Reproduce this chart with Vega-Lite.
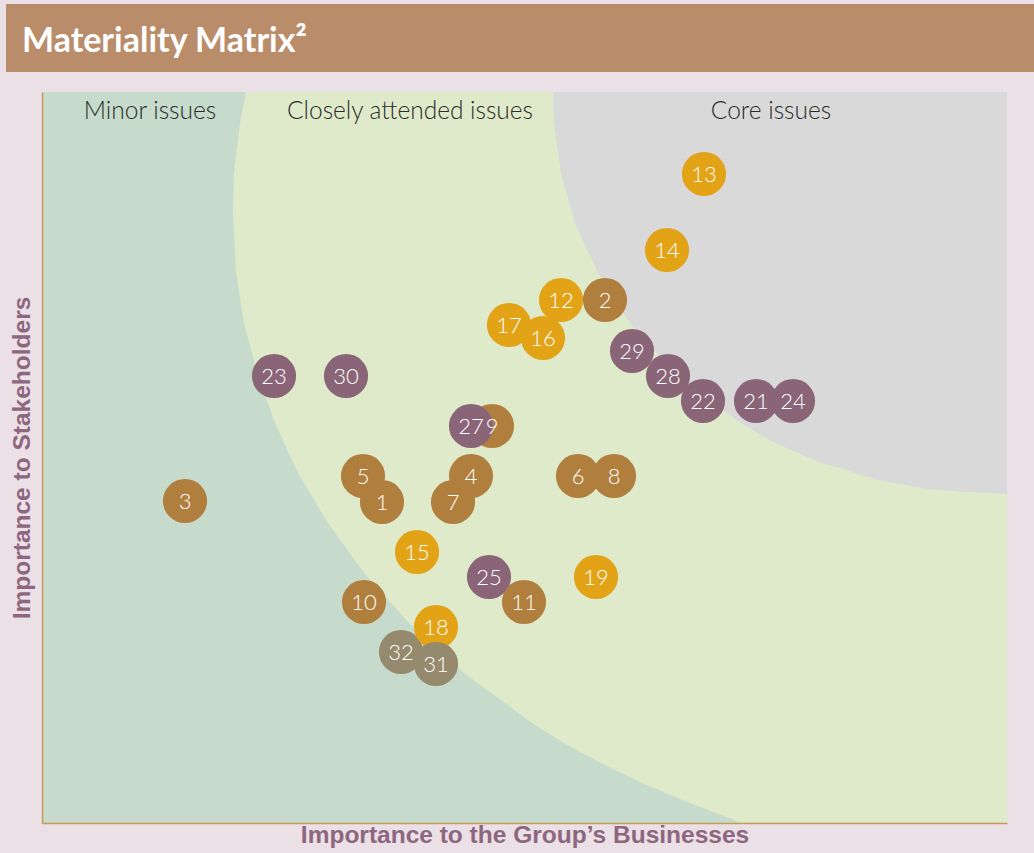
{
  "$schema": "https://vega.github.io/schema/vega-lite/v6.json",
  "width": 965,
  "height": 731,
  "autosize": {"type": "none"},
  "padding": {"left": 42, "top": 92, "right": 27, "bottom": 30},
  "background": "#ebe0e6",
  "config": {
    "view": {"fill": "#c6dbcb", "stroke": null}
  },
  "datasets": {
    "bar": [{"x": -36, "x2": 992, "y": 751, "y2": 819}],
    "heading": [{"x": -20, "y": 771, "text": "Materiality Matrix²"}],
    "zones": [
      {"x": 108, "y": 704, "text": "Minor issues"},
      {"x": 368, "y": 704, "text": "Closely attended issues"},
      {"x": 729, "y": 704, "text": "Core issues"}
    ],
    "closely": [
      {"y": 0, "x": 700},
      {"y": 20, "x": 648},
      {"y": 40, "x": 600},
      {"y": 60, "x": 559},
      {"y": 80, "x": 522},
      {"y": 100, "x": 490},
      {"y": 150, "x": 422},
      {"y": 200, "x": 367},
      {"y": 250, "x": 322},
      {"y": 300, "x": 286},
      {"y": 350, "x": 256},
      {"y": 400, "x": 233},
      {"y": 450, "x": 215},
      {"y": 500, "x": 202},
      {"y": 550, "x": 194},
      {"y": 610, "x": 191},
      {"y": 650, "x": 192},
      {"y": 700, "x": 198},
      {"y": 731, "x": 204}
    ],
    "core": [
      {"y": 329, "x": 965},
      {"y": 331, "x": 925},
      {"y": 334, "x": 885},
      {"y": 343, "x": 836},
      {"y": 362, "x": 774},
      {"y": 381, "x": 731},
      {"y": 401, "x": 697},
      {"y": 450, "x": 633},
      {"y": 500, "x": 588},
      {"y": 550, "x": 556},
      {"y": 600, "x": 533},
      {"y": 650, "x": 519},
      {"y": 700, "x": 512},
      {"y": 731, "x": 511}
    ],
    "issues": [
      {"id": "3", "group": "Category A", "x": 143, "y": 322},
      {"id": "23", "group": "Category C", "x": 232, "y": 447},
      {"id": "30", "group": "Category C", "x": 304, "y": 447},
      {"id": "5", "group": "Category A", "x": 321, "y": 347},
      {"id": "1", "group": "Category A", "x": 340, "y": 321},
      {"id": "10", "group": "Category A", "x": 322, "y": 221},
      {"id": "32", "group": "Category D", "x": 359, "y": 171},
      {"id": "18", "group": "Category B", "x": 394, "y": 196},
      {"id": "31", "group": "Category D", "x": 394, "y": 159},
      {"id": "15", "group": "Category B", "x": 375, "y": 271},
      {"id": "4", "group": "Category A", "x": 429, "y": 347},
      {"id": "7", "group": "Category A", "x": 411, "y": 321},
      {"id": "9", "group": "Category A", "x": 450, "y": 397},
      {"id": "27", "group": "Category C", "x": 429, "y": 397},
      {"id": "25", "group": "Category C", "x": 447, "y": 246},
      {"id": "11", "group": "Category A", "x": 482, "y": 221},
      {"id": "17", "group": "Category B", "x": 467, "y": 498},
      {"id": "16", "group": "Category B", "x": 501, "y": 485},
      {"id": "12", "group": "Category B", "x": 519, "y": 523},
      {"id": "2", "group": "Category A", "x": 563, "y": 523},
      {"id": "6", "group": "Category A", "x": 536, "y": 347},
      {"id": "8", "group": "Category A", "x": 572, "y": 347},
      {"id": "19", "group": "Category B", "x": 554, "y": 246},
      {"id": "29", "group": "Category C", "x": 590, "y": 472},
      {"id": "28", "group": "Category C", "x": 626, "y": 447},
      {"id": "22", "group": "Category C", "x": 661, "y": 422},
      {"id": "21", "group": "Category C", "x": 714, "y": 422},
      {"id": "24", "group": "Category C", "x": 751, "y": 422},
      {"id": "14", "group": "Category B", "x": 625, "y": 573},
      {"id": "13", "group": "Category B", "x": 662, "y": 649}
    ]
  },
  "encoding": {
    "x": {
      "field": "x",
      "type": "quantitative",
      "scale": {"domain": [0, 965], "nice": false, "zero": false},
      "axis": {
        "title": "Importance to the Group’s Businesses",
        "titleFont": "Liberation Sans",
        "titleFontSize": 24.5,
        "titleFontWeight": "bold",
        "titleColor": "#8d6780",
        "titlePadding": 0,
        "domainColor": "#c8975b",
        "domainWidth": 1.5,
        "ticks": false,
        "labels": false,
        "grid": false,
        "zindex": 1
      }
    },
    "y": {
      "field": "y",
      "type": "quantitative",
      "scale": {"domain": [0, 731], "nice": false, "zero": false},
      "axis": {
        "title": "Importance to Stakeholders",
        "titleFont": "Liberation Sans",
        "titleFontSize": 24.5,
        "titleFontWeight": "bold",
        "titleColor": "#8d6780",
        "titlePadding": 8,
        "domainColor": "#c8975b",
        "domainWidth": 1.5,
        "ticks": false,
        "labels": false,
        "grid": false,
        "zindex": 1
      }
    }
  },
  "layer": [
    {
      "data": {"name": "bar"},
      "mark": {"type": "rect", "color": "#b98d6a"},
      "encoding": {"x2": {"field": "x2"}, "y2": {"field": "y2"}}
    },
    {
      "data": {"name": "heading"},
      "mark": {"type": "text", "align": "left", "baseline": "alphabetic", "font": "Lato", "fontWeight": "bold", "fontSize": 34, "color": "white"},
      "encoding": {"text": {"field": "text"}}
    },
    {
      "data": {"name": "closely"},
      "mark": {"type": "area", "orient": "horizontal", "color": "#dfeaca", "opacity": 1},
      "encoding": {"x2": {"datum": 965}}
    },
    {
      "data": {"name": "core"},
      "mark": {"type": "area", "orient": "horizontal", "color": "#d9d9d9", "opacity": 1},
      "encoding": {"x2": {"datum": 965}}
    },
    {
      "data": {"name": "zones"},
      "mark": {"type": "text", "align": "center", "baseline": "alphabetic", "font": "Lato", "fontWeight": 300, "fontSize": 24.5, "color": "#2b2b2b"},
      "encoding": {"text": {"field": "text"}}
    },
    {
      "data": {"name": "issues"},
      "mark": {"type": "circle", "size": 1950, "opacity": 1},
      "encoding": {
        "color": {
          "field": "group",
          "type": "nominal",
          "scale": {"domain": ["Category A", "Category B", "Category C", "Category D"], "range": ["#b07f3e", "#e2a317", "#8a6577", "#968a6e"]},
          "legend": null
        }
      }
    },
    {
      "data": {"name": "issues"},
      "mark": {"type": "text", "align": "center", "baseline": "middle", "dy": 1, "font": "Lato", "fontWeight": 300, "fontSize": 22, "color": "white"},
      "encoding": {"text": {"field": "id"}}
    }
  ]
}
